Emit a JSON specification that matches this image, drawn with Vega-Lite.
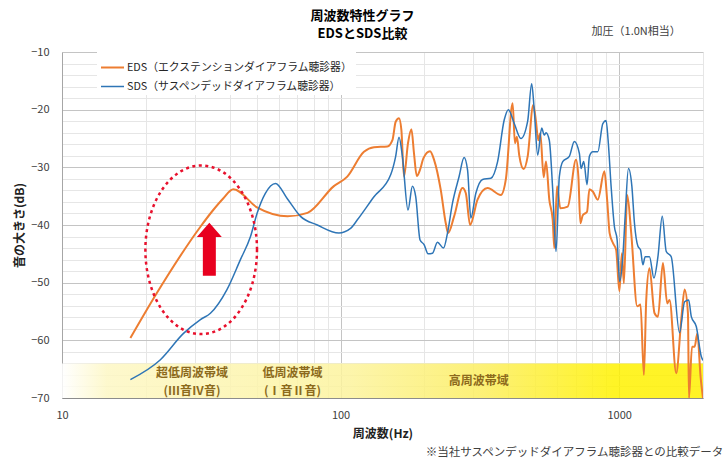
{
  "$schema": "https://vega.github.io/schema/vega-lite/v6.json",
  "width": 641,
  "height": 346,
  "autosize": {"type": "none"},
  "padding": {"left": 62, "top": 52, "right": 22, "bottom": 65},
  "background": "white",
  "config": {"font": "Noto Sans CJK JP", "view": {"stroke": null}},
  "title": {
    "text": ["周波数特性グラフ", "EDSとSDS比較"],
    "fontSize": 13,
    "fontWeight": "bold",
    "anchor": "middle",
    "offset": 12,
    "dx": -20,
    "dy": 27,
    "lineHeight": 17.5,
    "color": "#000000",
    "font": "Noto Sans CJK JP"
  },
  "datasets": {
    "curves": [
      {"series": "EDS（エクステンションダイアフラム聴診器）", "freq": 17.6, "db": -59.6},
      {"series": "EDS（エクステンションダイアフラム聴診器）", "freq": 21.9, "db": -51.8},
      {"series": "EDS（エクステンションダイアフラム聴診器）", "freq": 31.4, "db": -40.3},
      {"series": "EDS（エクステンションダイアフラム聴診器）", "freq": 34.9, "db": -37.4},
      {"series": "EDS（エクステンションダイアフラム聴診器）", "freq": 37.9, "db": -35.4},
      {"series": "EDS（エクステンションダイアフラム聴診器）", "freq": 41.2, "db": -33.8},
      {"series": "EDS（エクステンションダイアフラム聴診器）", "freq": 50.3, "db": -37.0},
      {"series": "EDS（エクステンションダイアフラム聴診器）", "freq": 64.5, "db": -38.5},
      {"series": "EDS（エクステンションダイアフラム聴診器）", "freq": 76.1, "db": -37.9},
      {"series": "EDS（エクステンションダイアフラム聴診器）", "freq": 94.4, "db": -33.3},
      {"series": "EDS（エクステンションダイアフラム聴診器）", "freq": 105.7, "db": -31.6},
      {"series": "EDS（エクステンションダイアフラム聴診器）", "freq": 121.3, "db": -27.3},
      {"series": "EDS（エクステンションダイアフラム聴診器）", "freq": 131.8, "db": -26.5},
      {"series": "EDS（エクステンションダイアフラム聴診器）", "freq": 147.2, "db": -26.4},
      {"series": "EDS（エクステンションダイアフラム聴診器）", "freq": 153.5, "db": -25.3},
      {"series": "EDS（エクステンションダイアフラム聴診器）", "freq": 157.7, "db": -22.1},
      {"series": "EDS（エクステンションダイアフラム聴診器）", "freq": 162.1, "db": -21.5},
      {"series": "EDS（エクステンションダイアフラム聴診器）", "freq": 165.3, "db": -23.5},
      {"series": "EDS（エクステンションダイアフラム聴診器）", "freq": 168.9, "db": -31.6},
      {"series": "EDS（エクステンションダイアフラム聴診器）", "freq": 174.6, "db": -25.8},
      {"series": "EDS（エクステンションダイアフラム聴診器）", "freq": 179.6, "db": -23.4},
      {"series": "EDS（エクステンションダイアフラム聴診器）", "freq": 183.5, "db": -27.6},
      {"series": "EDS（エクステンションダイアフラム聴診器）", "freq": 187.7, "db": -31.5},
      {"series": "EDS（エクステンションダイアフラム聴診器）", "freq": 192.9, "db": -30.4},
      {"series": "EDS（エクステンションダイアフラム聴診器）", "freq": 198.4, "db": -28.4},
      {"series": "EDS（エクステンションダイアフラム聴診器）", "freq": 209.5, "db": -27.2},
      {"series": "EDS（エクステンションダイアフラム聴診器）", "freq": 216.6, "db": -28.7},
      {"series": "EDS（エクステンションダイアフラム聴診器）", "freq": 228.9, "db": -33.9},
      {"series": "EDS（エクステンションダイアフラム聴診器）", "freq": 238.6, "db": -39.7},
      {"series": "EDS（エクステンションダイアフラム聴診器）", "freq": 243.2, "db": -41.4},
      {"series": "EDS（エクステンションダイアフラム聴診器）", "freq": 255.6, "db": -38.5},
      {"series": "EDS（エクステンションダイアフラム聴診器）", "freq": 274.0, "db": -33.6},
      {"series": "EDS（エクステンションダイアフラム聴診器）", "freq": 281.6, "db": -34.5},
      {"series": "EDS（エクステンションダイアフラム聴診器）", "freq": 291.8, "db": -40.0},
      {"series": "EDS（エクステンションダイアフラム聴診器）", "freq": 310.2, "db": -35.6},
      {"series": "EDS（エクステンションダイアフラム聴診器）", "freq": 337.1, "db": -33.6},
      {"series": "EDS（エクステンションダイアフラム聴診器）", "freq": 376.2, "db": -34.8},
      {"series": "EDS（エクステンションダイアフラム聴診器）", "freq": 392.2, "db": -32.0},
      {"series": "EDS（エクステンションダイアフラム聴診器）", "freq": 414.6, "db": -18.9},
      {"series": "EDS（エクステンションダイアフラム聴診器）", "freq": 422.6, "db": -25.8},
      {"series": "EDS（エクステンションダイアフラム聴診器）", "freq": 429.6, "db": -24.7},
      {"series": "EDS（エクステンションダイアフラム聴診器）", "freq": 437.9, "db": -27.9},
      {"series": "EDS（エクステンションダイアフラム聴診器）", "freq": 454.2, "db": -30.3},
      {"series": "EDS（エクステンションダイアフラム聴診器）", "freq": 469.5, "db": -28.1},
      {"series": "EDS（エクステンションダイアフラム聴診器）", "freq": 491.7, "db": -19.2},
      {"series": "EDS（エクステンションダイアフラム聴診器）", "freq": 503.0, "db": -22.1},
      {"series": "EDS（エクステンションダイアフラム聴診器）", "freq": 512.5, "db": -25.3},
      {"series": "EDS（エクステンションダイアフラム聴診器）", "freq": 521.1, "db": -24.1},
      {"series": "EDS（エクステンションダイアフラム聴診器）", "freq": 535.9, "db": -31.7},
      {"series": "EDS（エクステンションダイアフラム聴診器）", "freq": 546.3, "db": -29.0},
      {"series": "EDS（エクステンションダイアフラム聴診器）", "freq": 561.4, "db": -35.6},
      {"series": "EDS（エクステンションダイアフラム聴診器）", "freq": 577.5, "db": -39.1},
      {"series": "EDS（エクステンションダイアフラム聴診器）", "freq": 585.2, "db": -44.0},
      {"series": "EDS（エクステンションダイアフラム聴診器）", "freq": 598.4, "db": -33.3},
      {"series": "EDS（エクステンションダイアフラム聴診器）", "freq": 615.0, "db": -37.1},
      {"series": "EDS（エクステンションダイアフラム聴診器）", "freq": 653.9, "db": -36.8},
      {"series": "EDS（エクステンションダイアフラム聴診器）", "freq": 700.2, "db": -28.7},
      {"series": "EDS（エクステンションダイアフラム聴診器）", "freq": 713.9, "db": -31.6},
      {"series": "EDS（エクステンションダイアフラム聴診器）", "freq": 725.8, "db": -39.7},
      {"series": "EDS（エクステンションダイアフラム聴診器）", "freq": 740.3, "db": -38.3},
      {"series": "EDS（エクステンションダイアフラム聴診器）", "freq": 767.1, "db": -37.7},
      {"series": "EDS（エクステンションダイアフラム聴診器）", "freq": 782.0, "db": -33.8},
      {"series": "EDS（エクステンションダイアフラム聴診器）", "freq": 804.3, "db": -34.2},
      {"series": "EDS（エクステンションダイアフラム聴診器）", "freq": 838.3, "db": -35.6},
      {"series": "EDS（エクステンションダイアフラム聴診器）", "freq": 885.3, "db": -30.7},
      {"series": "EDS（エクステンションダイアフラム聴診器）", "freq": 905.4, "db": -35.6},
      {"series": "EDS（エクステンションダイアフラム聴診器）", "freq": 924.3, "db": -41.4},
      {"series": "EDS（エクステンションダイアフラム聴診器）", "freq": 951.5, "db": -43.2},
      {"series": "EDS（エクステンションダイアフラム聴診器）", "freq": 975.4, "db": -44.3},
      {"series": "EDS（エクステンションダイアフラム聴診器）", "freq": 1002, "db": -51.5},
      {"series": "EDS（エクステンションダイアフラム聴診器）", "freq": 1023, "db": -44.9},
      {"series": "EDS（エクステンションダイアフラム聴診器）", "freq": 1040, "db": -50.1},
      {"series": "EDS（エクステンションダイアフラム聴診器）", "freq": 1069, "db": -34.8},
      {"series": "EDS（エクステンションダイアフラム聴診器）", "freq": 1105, "db": -41.4},
      {"series": "EDS（エクステンションダイアフラム聴診器）", "freq": 1161, "db": -54.1},
      {"series": "EDS（エクステンションダイアフラム聴診器）", "freq": 1193, "db": -53.8},
      {"series": "EDS（エクステンションダイアフラム聴診器）", "freq": 1227, "db": -66.0},
      {"series": "EDS（エクステンションダイアフラム聴診器）", "freq": 1251, "db": -53.0},
      {"series": "EDS（エクステンションダイアフラム聴診器）", "freq": 1285, "db": -47.5},
      {"series": "EDS（エクステンションダイアフラム聴診器）", "freq": 1340, "db": -55.3},
      {"series": "EDS（エクステンションダイアフラム聴診器）", "freq": 1378, "db": -55.9},
      {"series": "EDS（エクステンションダイアフラム聴診器）", "freq": 1436, "db": -46.6},
      {"series": "EDS（エクステンションダイアフラム聴診器）", "freq": 1488, "db": -53.6},
      {"series": "EDS（エクステンションダイアフラム聴診器）", "freq": 1517, "db": -53.0},
      {"series": "EDS（エクステンションダイアフラム聴診器）", "freq": 1603, "db": -65.7},
      {"series": "EDS（エクステンションダイアフラム聴診器）", "freq": 1671, "db": -56.4},
      {"series": "EDS（エクステンションダイアフラム聴診器）", "freq": 1718, "db": -51.2},
      {"series": "EDS（エクステンションダイアフラム聴診器）", "freq": 1766, "db": -55.3},
      {"series": "EDS（エクステンションダイアフラム聴診器）", "freq": 1781, "db": -70.0},
      {"series": "EDS（エクステンションダイアフラム聴診器）", "freq": 1826, "db": -61.1},
      {"series": "EDS（エクステンションダイアフラム聴診器）", "freq": 1866, "db": -61.1},
      {"series": "EDS（エクステンションダイアフラム聴診器）", "freq": 1908, "db": -58.8},
      {"series": "EDS（エクステンションダイアフラム聴診器）", "freq": 1961, "db": -66.4},
      {"series": "EDS（エクステンションダイアフラム聴診器）", "freq": 2000, "db": -70.0},
      {"series": "SDS（サスペンデッドダイアフラム聴診器）", "freq": 17.6, "db": -66.8},
      {"series": "SDS（サスペンデッドダイアフラム聴診器）", "freq": 22.5, "db": -63.4},
      {"series": "SDS（サスペンデッドダイアフラム聴診器）", "freq": 27.3, "db": -58.8},
      {"series": "SDS（サスペンデッドダイアフラム聴診器）", "freq": 31.4, "db": -56.4},
      {"series": "SDS（サスペンデッドダイアフラム聴診器）", "freq": 34.1, "db": -55.3},
      {"series": "SDS（サスペンデッドダイアフラム聴診器）", "freq": 39.1, "db": -51.2},
      {"series": "SDS（サスペンデッドダイアフラム聴診器）", "freq": 43.7, "db": -46.0},
      {"series": "SDS（サスペンデッドダイアフラム聴診器）", "freq": 47.5, "db": -42.0},
      {"series": "SDS（サスペンデッドダイアフラム聴診器）", "freq": 50.2, "db": -37.9},
      {"series": "SDS（サスペンデッドダイアフラム聴診器）", "freq": 53.7, "db": -34.5},
      {"series": "SDS（サスペンデッドダイアフラム聴診器）", "freq": 58.4, "db": -32.8},
      {"series": "SDS（サスペンデッドダイアフラム聴診器）", "freq": 64.3, "db": -35.4},
      {"series": "SDS（サスペンデッドダイアフラム聴診器）", "freq": 71.8, "db": -38.5},
      {"series": "SDS（サスペンデッドダイアフラム聴診器）", "freq": 82.5, "db": -40.0},
      {"series": "SDS（サスペンデッドダイアフラム聴診器）", "freq": 98.6, "db": -41.4},
      {"series": "SDS（サスペンデッドダイアフラム聴診器）", "freq": 108.6, "db": -40.6},
      {"series": "SDS（サスペンデッドダイアフラム聴診器）", "freq": 114.9, "db": -39.1},
      {"series": "SDS（サスペンデッドダイアフラム聴診器）", "freq": 131.8, "db": -35.1},
      {"series": "SDS（サスペンデッドダイアフラム聴診器）", "freq": 151.3, "db": -31.3},
      {"series": "SDS（サスペンデッドダイアフラム聴診器）", "freq": 157.7, "db": -28.1},
      {"series": "SDS（サスペンデッドダイアフラム聴診器）", "freq": 162.1, "db": -24.8},
      {"series": "SDS（サスペンデッドダイアフラム聴診器）", "freq": 166.7, "db": -28.1},
      {"series": "SDS（サスペンデッドダイアフラム聴診器）", "freq": 174.6, "db": -37.4},
      {"series": "SDS（サスペンデッドダイアフラム聴診器）", "freq": 181.1, "db": -33.3},
      {"series": "SDS（サスペンデッドダイアフラム聴診器）", "freq": 186.1, "db": -35.1},
      {"series": "SDS（サスペンデッドダイアフラム聴診器）", "freq": 192.9, "db": -42.6},
      {"series": "SDS（サスペンデッドダイアフラム聴診器）", "freq": 199.4, "db": -43.4},
      {"series": "SDS（サスペンデッドダイアフラム聴診器）", "freq": 206.1, "db": -45.0},
      {"series": "SDS（サスペンデッドダイアフラム聴診器）", "freq": 213.8, "db": -44.9},
      {"series": "SDS（サスペンデッドダイアフラム聴診器）", "freq": 222.7, "db": -43.0},
      {"series": "SDS（サスペンデッドダイアフラム聴診器）", "freq": 234.1, "db": -44.0},
      {"series": "SDS（サスペンデッドダイアフラム聴診器）", "freq": 242.0, "db": -41.4},
      {"series": "SDS（サスペンデッドダイアフラム聴診器）", "freq": 252.2, "db": -36.2},
      {"series": "SDS（サスペンデッドダイアフラム聴診器）", "freq": 266.4, "db": -31.6},
      {"series": "SDS（サスペンデッドダイアフラム聴診器）", "freq": 277.6, "db": -28.3},
      {"series": "SDS（サスペンデッドダイアフラム聴診器）", "freq": 285.7, "db": -30.5},
      {"series": "SDS（サスペンデッドダイアフラム聴診器）", "freq": 293.5, "db": -38.8},
      {"series": "SDS（サスペンデッドダイアフラム聴診器）", "freq": 305.9, "db": -34.5},
      {"series": "SDS（サスペンデッドダイアフラム聴診器）", "freq": 323.4, "db": -32.1},
      {"series": "SDS（サスペンデッドダイアフラム聴診器）", "freq": 346.4, "db": -31.9},
      {"series": "SDS（サスペンデッドダイアフラム聴診器）", "freq": 366.2, "db": -29.0},
      {"series": "SDS（サスペンデッドダイアフラム聴診器）", "freq": 386.7, "db": -21.8},
      {"series": "SDS（サスペンデッドダイアフラム聴診器）", "freq": 400.4, "db": -20.0},
      {"series": "SDS（サスペンデッドダイアフラム聴診器）", "freq": 420.2, "db": -22.4},
      {"series": "SDS（サスペンデッドダイアフラム聴診器）", "freq": 444.1, "db": -25.0},
      {"series": "SDS（サスペンデッドダイアフラム聴診器）", "freq": 469.5, "db": -22.0},
      {"series": "SDS（サスペンデッドダイアフラム聴診器）", "freq": 485.3, "db": -15.5},
      {"series": "SDS（サスペンデッドダイアフラム聴診器）", "freq": 495.8, "db": -20.1},
      {"series": "SDS（サスペンデッドダイアフラム聴診器）", "freq": 510.1, "db": -27.9},
      {"series": "SDS（サスペンデッドダイアフラム聴診器）", "freq": 527.1, "db": -23.2},
      {"series": "SDS（サスペンデッドダイアフラム聴診器）", "freq": 538.6, "db": -24.4},
      {"series": "SDS（サスペンデッドダイアフラム聴診器）", "freq": 546.3, "db": -24.0},
      {"series": "SDS（サスペンデッドダイアフラム聴診器）", "freq": 561.4, "db": -25.3},
      {"series": "SDS（サスペンデッドダイアフラム聴診器）", "freq": 577.5, "db": -33.9},
      {"series": "SDS（サスペンデッドダイアフラム聴診器）", "freq": 593.5, "db": -44.6},
      {"series": "SDS（サスペンデッドダイアフラム聴診器）", "freq": 610.0, "db": -31.6},
      {"series": "SDS（サスペンデッドダイアフラム聴診器）", "freq": 627.3, "db": -29.0},
      {"series": "SDS（サスペンデッドダイアフラム聴診器）", "freq": 662.5, "db": -28.1},
      {"series": "SDS（サスペンデッドダイアフラム聴診器）", "freq": 690.5, "db": -25.5},
      {"series": "SDS（サスペンデッドダイアフラム聴診器）", "freq": 719.9, "db": -27.6},
      {"series": "SDS（サスペンデッドダイアフラム聴診器）", "freq": 730.0, "db": -30.2},
      {"series": "SDS（サスペンデッドダイアフラム聴診器）", "freq": 746.4, "db": -29.0},
      {"series": "SDS（サスペンデッドダイアフラム聴診器）", "freq": 767.1, "db": -33.0},
      {"series": "SDS（サスペンデッドダイアフラム聴診器）", "freq": 782.0, "db": -28.1},
      {"series": "SDS（サスペンデッドダイアフラム聴診器）", "freq": 804.3, "db": -27.3},
      {"series": "SDS（サスペンデッドダイアフラム聴診器）", "freq": 838.3, "db": -27.3},
      {"series": "SDS（サスペンデッドダイアフラム聴診器）", "freq": 873.8, "db": -22.4},
      {"series": "SDS（サスペンデッドダイアフラム聴診器）", "freq": 897.8, "db": -21.9},
      {"series": "SDS（サスペンデッドダイアフラム聴診器）", "freq": 912.9, "db": -25.3},
      {"series": "SDS（サスペンデッドダイアフラム聴診器）", "freq": 935.8, "db": -33.3},
      {"series": "SDS（サスペンデッドダイアフラム聴診器）", "freq": 961.8, "db": -40.3},
      {"series": "SDS（サスペンデッドダイアフラム聴診器）", "freq": 983.6, "db": -42.6},
      {"series": "SDS（サスペンデッドダイアフラム聴診器）", "freq": 1004, "db": -49.8},
      {"series": "SDS（サスペンデッドダイアフラム聴診器）", "freq": 1031, "db": -45.5},
      {"series": "SDS（サスペンデッドダイアフラム聴診器）", "freq": 1051, "db": -38.5},
      {"series": "SDS（サスペンデッドダイアフラム聴診器）", "freq": 1080, "db": -30.2},
      {"series": "SDS（サスペンデッドダイアフラム聴診器）", "freq": 1111, "db": -33.3},
      {"series": "SDS（サスペンデッドダイアフラム聴診器）", "freq": 1135, "db": -39.7},
      {"series": "SDS（サスペンデッドダイアフラム聴診器）", "freq": 1168, "db": -43.7},
      {"series": "SDS（サスペンデッドダイアフラム聴診器）", "freq": 1193, "db": -44.3},
      {"series": "SDS（サスペンデッドダイアフラム聴診器）", "freq": 1217, "db": -46.9},
      {"series": "SDS（サスペンデッドダイアフラム聴診器）", "freq": 1240, "db": -45.5},
      {"series": "SDS（サスペンデッドダイアフラム聴診器）", "freq": 1285, "db": -45.5},
      {"series": "SDS（サスペンデッドダイアフラム聴診器）", "freq": 1333, "db": -49.2},
      {"series": "SDS（サスペンデッドダイアフラム聴診器）", "freq": 1378, "db": -45.5},
      {"series": "SDS（サスペンデッドダイアフラム聴診器）", "freq": 1428, "db": -38.5},
      {"series": "SDS（サスペンデッドダイアフラム聴診器）", "freq": 1476, "db": -44.6},
      {"series": "SDS（サスペンデッドダイアフラム聴診器）", "freq": 1538, "db": -45.5},
      {"series": "SDS（サスペンデッドダイアフラム聴診器）", "freq": 1648, "db": -58.7},
      {"series": "SDS（サスペンデッドダイアフラム聴診器）", "freq": 1718, "db": -53.3},
      {"series": "SDS（サスペンデッドダイアフラム聴診器）", "freq": 1776, "db": -53.0},
      {"series": "SDS（サスペンデッドダイアフラム聴診器）", "freq": 1816, "db": -55.9},
      {"series": "SDS（サスペンデッドダイアフラム聴診器）", "freq": 1892, "db": -57.6},
      {"series": "SDS（サスペンデッドダイアフラム聴診器）", "freq": 1972, "db": -62.8},
      {"series": "SDS（サスペンデッドダイアフラム聴診器）", "freq": 2000, "db": -63.5}
    ],
    "band": [{"freq": 10, "freq2": 2000, "db": -70, "db2": -64}],
    "bandLabels": [
      {"freq": 29.3, "db": -65.7, "label": "超低周波帯域"},
      {"freq": 29.3, "db": -68.8, "label": "(Ⅲ音Ⅳ音)"},
      {"freq": 67.2, "db": -65.7, "label": "低周波帯域"},
      {"freq": 67.2, "db": -68.8, "label": "(Ⅰ音Ⅱ音)"},
      {"freq": 313.6, "db": -67.0, "label": "高周波帯域"}
    ]
  },
  "encoding": {
    "x": {
      "field": "freq",
      "type": "quantitative",
      "scale": {"type": "log", "domain": [10, 2000], "nice": false},
      "axis": {
        "title": "周波数(Hz)",
        "values": [10, 20, 30, 40, 50, 60, 70, 80, 90, 100, 200, 300, 400, 500, 600, 700, 800, 900, 1000, 2000],
        "format": "d",
        "labelExpr": "(datum.value == 10 || datum.value == 100 || datum.value == 1000) ? datum.label : ''",
        "labelOverlap": false,
        "labelFlush": false,
        "labelFontSize": 11,
        "labelColor": "#404040",
        "labelPadding": 11,
        "ticks": false,
        "domainColor": "#8c8c8c",
        "grid": true,
        "gridColor": {"condition": {"test": "datum.value == 10 || datum.value == 100 || datum.value == 1000", "value": "#c4c4c4"}, "value": "#e6e6e6"},
        "titleFontSize": 12,
        "titleFontWeight": "bold",
        "titleColor": "#222222",
        "titlePadding": 8
      }
    },
    "y": {
      "field": "db",
      "type": "quantitative",
      "scale": {"domain": [-70, -10], "nice": false, "zero": false},
      "axis": {
        "title": "音の大きさ(dB)",
        "values": [-70, -68, -66, -64, -62, -60, -58, -56, -54, -52, -50, -48, -46, -44, -42, -40, -38, -36, -34, -32, -30, -28, -26, -24, -22, -20, -18, -16, -14, -12, -10],
        "labelExpr": "(datum.value % 10 == 0) ? datum.label : ''",
        "labelOverlap": false,
        "labelFlush": false,
        "labelFontSize": 11,
        "labelColor": "#404040",
        "labelPadding": 13,
        "ticks": false,
        "domainColor": "#a6a6a6",
        "grid": true,
        "gridColor": {"condition": {"test": "datum.value % 10 == 0", "value": "#c4c4c4"}, "value": "#e6e6e6"},
        "titleFontSize": 12,
        "titleFontWeight": "bold",
        "titleColor": "#222222",
        "titlePadding": 4
      }
    }
  },
  "layer": [
    {
      "data": {"name": "band"},
      "mark": {
        "type": "rect",
        "opacity": 0.85,
        "color": {
          "gradient": "linear",
          "x1": 0, "y1": 0, "x2": 1, "y2": 0,
          "stops": [
            {"offset": 0, "color": "#ffffff"},
            {"offset": 0.07, "color": "#fdf7c4"},
            {"offset": 0.45, "color": "#fcf39c"},
            {"offset": 0.66, "color": "#fcee5e"},
            {"offset": 0.86, "color": "#fff200"},
            {"offset": 1, "color": "#fff000"}
          ]
        }
      },
      "encoding": {
        "x2": {"field": "freq2"},
        "y2": {"field": "db2"}
      }
    },
    {
      "data": {"name": "bandLabels"},
      "mark": {"type": "text", "fontSize": 12, "color": "#8c6a1c", "fontWeight": "bold", "align": "center", "baseline": "middle"},
      "encoding": {"text": {"field": "label"}}
    },
    {
      "data": {"name": "curves"},
      "mark": {"type": "line", "interpolate": "monotone", "clip": true},
      "encoding": {
        "color": {
          "field": "series",
          "type": "nominal",
          "scale": {"domain": ["EDS（エクステンションダイアフラム聴診器）", "SDS（サスペンデッドダイアフラム聴診器）"], "range": ["#ED7D31", "#2E75B6"]},
          "legend": {
            "title": null,
            "orient": "none",
            "legendX": 35,
            "legendY": 0,
            "padding": 3,
            "fillColor": "white",
            "symbolType": "stroke",
            "symbolSize": 529,
            "symbolStrokeWidth": 2,
            "rowPadding": 1,
            "labelFontSize": 10.8,
            "labelColor": "#262626",
            "labelOffset": 2,
            "labelLimit": 400
          }
        },
        "strokeWidth": {
          "field": "series",
          "type": "nominal",
          "scale": {"domain": ["EDS（エクステンションダイアフラム聴診器）", "SDS（サスペンデッドダイアフラム聴診器）"], "range": [2, 1.5]},
          "legend": null
        }
      }
    },
    {
      "data": {"values": [{"freq": 31.6, "db": -44.3}]},
      "mark": {
        "type": "point",
        "shape": "M0.662,0 C0.662,-0.552 0.366,-1 0,-1 C-0.366,-1 -0.662,-0.552 -0.662,0 C-0.662,0.552 -0.366,1 0,1 C0.366,1 0.662,0.552 0.662,0 Z",
        "size": 28425,
        "filled": false,
        "stroke": "#e8112d",
        "strokeWidth": 2.5,
        "strokeDash": [3, 3.5],
        "opacity": 1
      }
    },
    {
      "data": {"values": [{"freq": 33.8, "db": -44.2}]},
      "mark": {
        "type": "point",
        "shape": "M0,-1 L0.47,-0.46 L0.245,-0.46 L0.245,1 L-0.245,1 L-0.245,-0.46 L-0.47,-0.46 Z",
        "size": 2809,
        "filled": true,
        "color": "#e8001f",
        "strokeWidth": 0,
        "opacity": 1
      }
    },
    {
      "data": {"values": [{"freq": 1151, "db": -6.5, "label": "加圧（1.0N相当）"}]},
      "mark": {"type": "text", "fontSize": 11, "color": "#404040", "align": "center", "baseline": "middle"},
      "encoding": {"text": {"field": "label"}}
    },
    {
      "data": {"values": [{"freq": 2366, "db": -79.5, "label": "※当社サスペンデッドダイアフラム聴診器との比較データ"}]},
      "mark": {"type": "text", "fontSize": 11.5, "color": "#404040", "align": "right", "baseline": "middle"},
      "encoding": {"text": {"field": "label"}}
    }
  ]
}
